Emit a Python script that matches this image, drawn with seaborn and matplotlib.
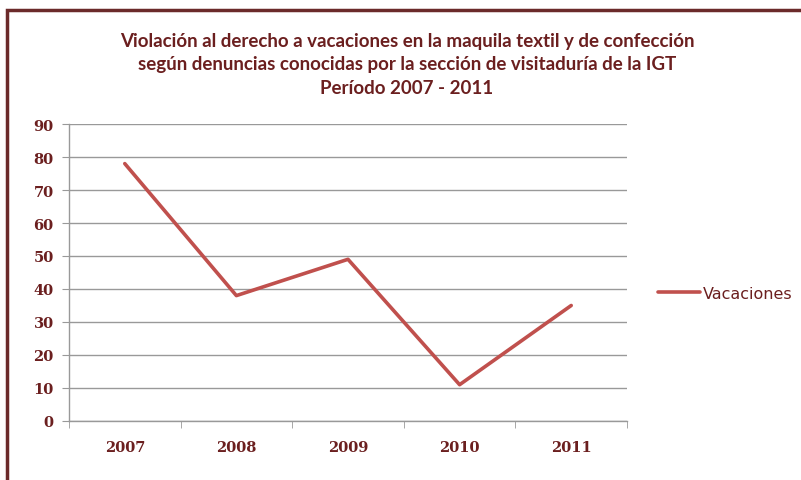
import pandas as pd
import matplotlib.pyplot as plt
import seaborn as sns
from matplotlib.patches import Rectangle

# Data
years = ["2007", "2008", "2009", "2010", "2011"]
vacaciones = [78, 38, 49, 11, 35]
y_ticks = [0, 10, 20, 30, 40, 50, 60, 70, 80, 90]

df = pd.DataFrame({"Año": years, "Vacaciones": vacaciones})

text_color = "#6B1F1F"
line_color = "#C0504D"

sns.set_style("white")

fig = plt.figure(figsize=(8.01, 4.81), dpi=100)
ax = fig.add_axes([0.0861, 0.1227, 0.6967, 0.6174])

sns.lineplot(data=df, x="Año", y="Vacaciones", ax=ax, color=line_color,
             linewidth=2.6, label="Vacaciones", sort=False)

ax.set_xlim(-0.5, 4.5)
ax.set_ylim(0, 90)
ax.set_yticks(y_ticks)
ax.set_xticks(range(len(years)))
ax.set_xticklabels(years)
ax.set_xticks([i - 0.5 for i in range(len(years) + 1)], minor=True)
ax.set_xlabel("")
ax.set_ylabel("")

ax.yaxis.grid(True, color="#999999", linewidth=1)
ax.set_axisbelow(True)
for side in ["top", "right"]:
    ax.spines[side].set_visible(False)
for side in ["left", "bottom"]:
    ax.spines[side].set_color("#999999")
    ax.spines[side].set_linewidth(1)

ax.tick_params(axis="y", which="major", length=5, color="#999999", direction="out",
               left=True, labelsize=10.5, labelcolor=text_color, pad=6)
ax.tick_params(axis="x", which="major", length=0, labelsize=10.5,
               labelcolor=text_color, pad=14)
ax.tick_params(axis="x", which="minor", length=5, color="#999999",
               direction="out", bottom=True)
for lbl in ax.get_xticklabels() + ax.get_yticklabels():
    lbl.set_family("DejaVu Serif")
    lbl.set_fontweight("bold")

leg = ax.legend(loc="center left", bbox_to_anchor=(1.03, 0.43), frameon=False,
                handlelength=2.6, handletextpad=0.2,
                prop={"family": "DejaVu Sans", "size": 11.5})
for t in leg.get_texts():
    t.set_color(text_color)

title = ("Violación al derecho a vacaciones en la maquila textil y de confección\n"
         "según denuncias conocidas por la sección de visitaduría de la IGT\n"
         "Período 2007 - 2011")
fig.text(0.508, 0.865, title, ha="center", va="center", color=text_color,
         fontsize=13.5, fontweight="bold", family="Lato", linespacing=1.45)

# dark red frame around the chart (right/bottom edges fall outside the image)
fig.patches.append(Rectangle((7 / 801, -0.05), 1.2, 1 - 11 / 481 + 0.05,
                             transform=fig.transFigure, fill=False,
                             edgecolor="#6B2A2A", linewidth=2.5))

fig.savefig("out.png", dpi=100)
